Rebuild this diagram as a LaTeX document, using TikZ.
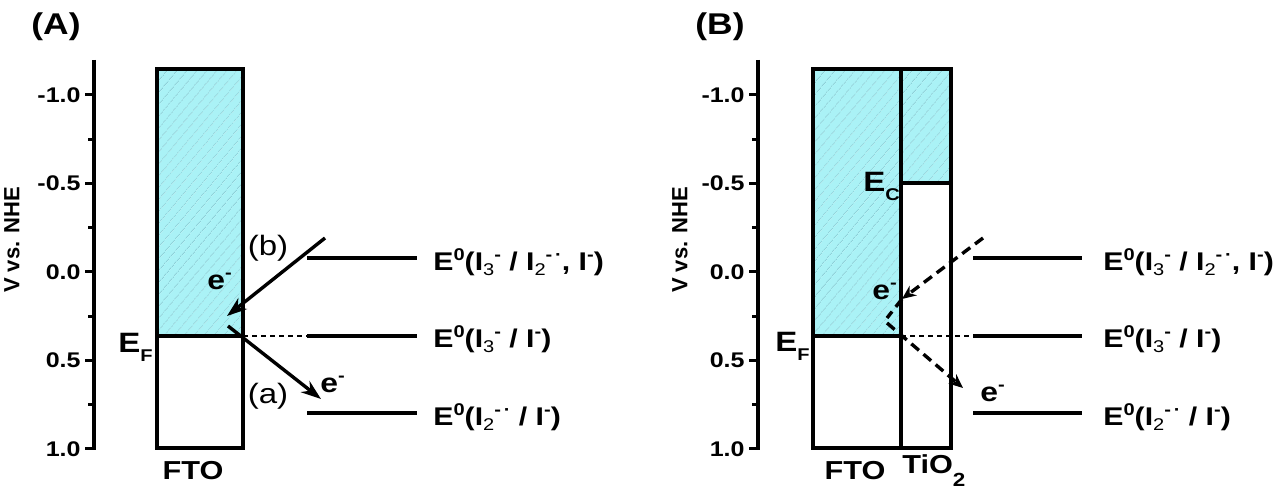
\documentclass[tikz,border=0pt]{standalone}
\usepackage{fontspec}
\setmainfont{Liberation Sans}[FakeStretch=1.18]
\newfontfamily\rotfont{Liberation Sans}
\usetikzlibrary{patterns.meta,arrows.meta}
\definecolor{cyanfill}{RGB}{170,242,246}
\definecolor{hatchcol}{RGB}{140,208,216}
\newcommand\lo[1]{\raisebox{-0.32em}{\fontsize{8.5}{8.5}\selectfont #1}}
\newcommand\up[1]{\raisebox{0.42em}{\fontsize{8.5}{8.5}\selectfont #1}}
\newcommand\dn[1]{\raisebox{-0.18em}{\fontsize{8.5}{8.5}\selectfont\mdseries #1}}
\tikzset{
  axline/.style={line width=1.7pt},
  tk/.style={line width=1.5pt},
  ticklbl/.style={anchor=east, inner sep=0pt, font=\bfseries\fontsize{10.6}{11}\selectfont},
  axlbl/.style={rotate=90, inner sep=0pt, font=\rotfont\bfseries\fontsize{11}{12}\selectfont},
  panel/.style={inner sep=0pt, font=\bfseries\fontsize{15}{16}\selectfont},
  boxline/.style={line width=1.6pt},
  band/.style={fill=cyanfill, postaction={pattern={Lines[angle=50,distance=4pt,line width=0.45pt]}, pattern color=hatchcol}},
  level/.style={line width=1.7pt},
  dotlevel/.style={line width=1pt, dash pattern=on 2.5pt off 2pt},
  lvllbl/.style={anchor=base west, inner sep=0pt, font=\bfseries\fontsize{12.8}{14}\selectfont},
  elbl/.style={anchor=base west, inner sep=0pt, font=\bfseries\fontsize{14}{15}\selectfont},
  mat/.style={inner sep=0pt, font=\bfseries\fontsize{13}{14}\selectfont},
  proc/.style={inner sep=0pt, font=\fontsize{14}{15}\selectfont},
  elec/.style={anchor=base west, inner sep=0pt, font=\bfseries\fontsize{13.5}{14}\selectfont},
  arr/.style={line width=1.7pt, -{Stealth[length=10pt,width=7pt]}},
  darr/.style={line width=1.7pt, dash pattern=on 5pt off 3pt},
  darrtip/.style={darr, -{Stealth[length=7pt,width=6pt]}},
}
\begin{document}
\begin{tikzpicture}[x=0.5pt,y=-0.5pt]
\useasboundingbox (0,0) rectangle (1280,501);

% ================= Panel A =================
\node[panel] (labA) at (56,27) {(A)};
\coordinate (axAt) at (94,60);
\coordinate (axAb) at (94,450);
\draw[axline] (axAt) -- (axAb);
\foreach \v/\l [count=\i] in {-1.0/-1.0,-0.5/-0.5,0.0/0.0,0.5/0.5,1.0/1.0}{
  \draw[tk] (85,{272+177*\v}) -- (94,{272+177*\v});
  \node[ticklbl] (tA\i) at (81,{272+177*\v}) {\l};
}
\foreach \v in {-0.75,-0.25,0.25,0.75}{
  \draw[tk] (88,{272+177*\v}) -- (94,{272+177*\v});
}
\node[axlbl] (yA) at (12,240) {V vs. NHE};

\fill[band] (157,69) rectangle (243,336);
\draw[boxline] (157,69) rectangle (243,448);
\draw[boxline] (157,336) -- (243,336);
\node[mat] (ftoA) at (193,471) {FTO};
\node[elbl] (EFa) at (118,353) {E\lo{F}};

\coordinate (l1As) at (307,258); \coordinate (l1Ae) at (417,258);
\coordinate (l2As) at (307,336); \coordinate (l2Ae) at (417,336);
\coordinate (l3As) at (307,413); \coordinate (l3Ae) at (417,413);
\coordinate (dAs) at (243,336);
\draw[level] (l1As) -- (l1Ae);
\draw[level] (l2As) -- (l2Ae);
\draw[level] (l3As) -- (l3Ae);
\draw[dotlevel] (dAs) -- (l2As);
\node[lvllbl] (t1A) at (433,271) {E\up{0}(I\dn{3}\up{-} / I\dn{2}\up{-\,·}, I\up{-})};
\node[lvllbl] (t2A) at (433,348) {E\up{0}(I\dn{3}\up{-} / I\up{-})};
\node[lvllbl] (t3A) at (433,426) {E\up{0}(I\dn{2}\up{-\,·} / I\up{-})};

\coordinate (bAs) at (325,238); \coordinate (bAe) at (227,316);
\coordinate (aAs) at (228,326); \coordinate (aAe) at (321,399);
\draw[arr] (bAs) -- (bAe);
\draw[arr] (aAs) -- (aAe);
\node[proc] (pb) at (268,248) {(b)};
\node[proc] (pa) at (268,396) {(a)};
\node[elec] (e1A) at (207,290) {e\up{-}};
\node[elec] (e2A) at (320,393) {e\up{-}};

% ================= Panel B =================
\node[panel] (labB) at (720,27) {(B)};
\coordinate (axBt) at (758,60);
\coordinate (axBb) at (758,450);
\draw[axline] (axBt) -- (axBb);
\foreach \v/\l [count=\i] in {-1.0/-1.0,-0.5/-0.5,0.0/0.0,0.5/0.5,1.0/1.0}{
  \draw[tk] (749,{272+177*\v}) -- (758,{272+177*\v});
  \node[ticklbl] (tB\i) at (745,{272+177*\v}) {\l};
}
\foreach \v in {-0.75,-0.25,0.25,0.75}{
  \draw[tk] (752,{272+177*\v}) -- (758,{272+177*\v});
}
\node[axlbl] (yB) at (680,240) {V vs. NHE};

\fill[band] (813,69) rectangle (901,336);
\fill[band] (901,69) rectangle (951,183);
\draw[boxline] (813,69) rectangle (951,448);
\draw[boxline] (901,69) -- (901,448);
\draw[boxline] (813,336) -- (901,336);
\draw[boxline] (901,183) -- (951,183);
\node[mat] (ftoB) at (855,471) {FTO};
\node[mat, anchor=west] (tioB) at (902,471) {TiO\raisebox{-0.5em}{\fontsize{9.5}{9.5}\selectfont 2}};
\node[elbl] (EFb) at (775,352) {E\lo{F}};
\node[elbl] (ECb) at (863,192) {E\lo{C}};

\coordinate (l1Bs) at (973,258); \coordinate (l1Be) at (1082,258);
\coordinate (l2Bs) at (973,336); \coordinate (l2Be) at (1082,336);
\coordinate (l3Bs) at (973,413); \coordinate (l3Be) at (1082,413);
\coordinate (dBs) at (901,336);
\draw[level] (l1Bs) -- (l1Be);
\draw[level] (l2Bs) -- (l2Be);
\draw[level] (l3Bs) -- (l3Be);
\draw[dotlevel] (dBs) -- (l2Bs);
\node[lvllbl] (t1B) at (1103,271) {E\up{0}(I\dn{3}\up{-} / I\dn{2}\up{-\,·}, I\up{-})};
\node[lvllbl] (t2B) at (1103,348) {E\up{0}(I\dn{3}\up{-} / I\up{-})};
\node[lvllbl] (t3B) at (1103,426) {E\up{0}(I\dn{2}\up{-\,·} / I\up{-})};

\coordinate (bBs) at (983,238); \coordinate (bBm) at (902,299); \coordinate (bBe) at (887,318);
\coordinate (aBs) at (887,323); \coordinate (aBe) at (963,388);
\draw[darrtip] (bBs) -- (bBm);
\draw[darr] (bBm) -- (bBe);
\draw[darrtip] (aBs) -- (aBe);
\node[elec] (e1B) at (872,300) {e\up{-}};
\node[elec] (e2B) at (980,402) {e\up{-}};
\end{tikzpicture}
\end{document}
